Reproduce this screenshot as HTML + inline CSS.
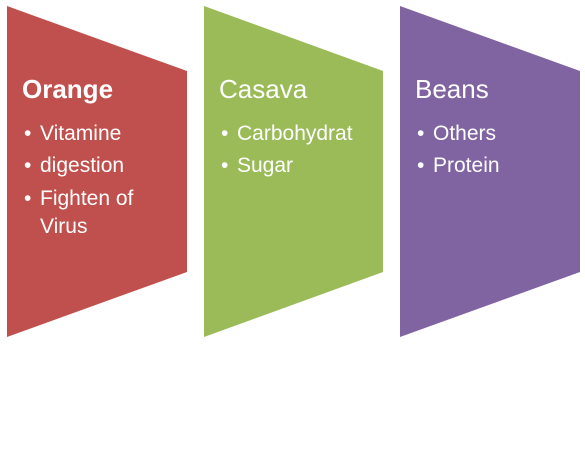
<!DOCTYPE html>
<html><head><meta charset="utf-8"><style>
html,body{margin:0;padding:0;background:#fff;width:585px;height:458px;overflow:hidden}
svg{display:block;font-family:"Liberation Sans",sans-serif}
</style></head><body>
<svg width="585" height="458" viewBox="0 0 585 458">
<g>
<polygon points="7,6 187,71 187,272 7,337" fill="#C0504D"/>
<text x="22" y="98" fill="#fff" font-size="26" font-weight="bold">Orange</text>
<g fill="#fff" font-size="21">
<text x="24" y="140">• <tspan x="40">Vitamine</tspan></text>
<text x="24" y="172">• <tspan x="40">digestion</tspan></text>
<text x="24" y="205">• <tspan x="40">Fighten of</tspan><tspan x="40" y="233">Virus</tspan></text>
</g>
</g>
<g>
<polygon points="204,6 383,71 383,272 204,337" fill="#9BBB59"/>
<text x="219" y="98" fill="#fff" font-size="26">Casava</text>
<g fill="#fff" font-size="21">
<text x="221" y="140">• <tspan x="237">Carbohydrat</tspan></text>
<text x="221" y="172">• <tspan x="237">Sugar</tspan></text>
</g>
</g>
<g>
<polygon points="400,6 580,71 580,272 400,337" fill="#8064A2"/>
<text x="415" y="98" fill="#fff" font-size="26">Beans</text>
<g fill="#fff" font-size="21">
<text x="417" y="140">• <tspan x="433">Others</tspan></text>
<text x="417" y="172">• <tspan x="433">Protein</tspan></text>
</g>
</g>
</svg>
</body></html>
